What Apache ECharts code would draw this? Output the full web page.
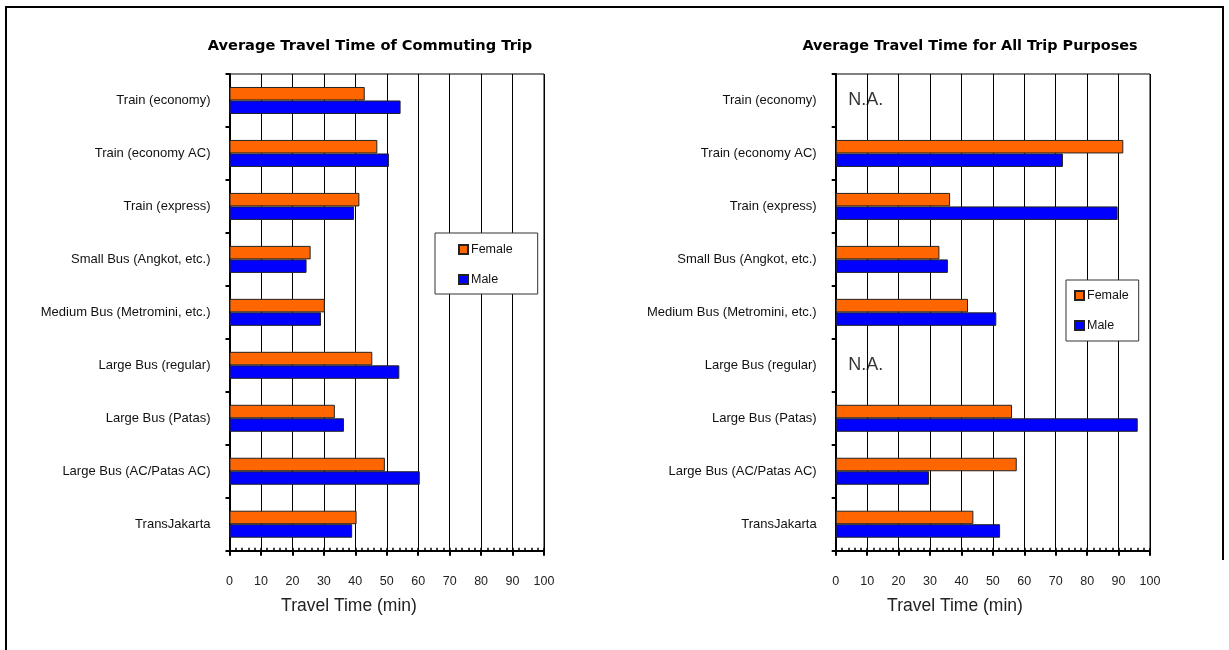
<!DOCTYPE html>
<html>
<head>
<meta charset="utf-8">
<script src="https://cdn.jsdelivr.net/npm/echarts@6/dist/echarts.min.js"></script>
<style>
html,body{margin:0;padding:0;background:#fff;}
#c{width:1229px;height:650px;}
</style>
</head>
<body>
<div id="c"></div>
<script>
var categories = ['Train (economy)','Train (economy AC)','Train (express)','Small Bus (Angkot, etc.)','Medium Bus (Metromini, etc.)','Large Bus (regular)','Large Bus (Patas)','Large Bus (AC/Patas AC)','TransJakarta'];
var commuteFemale = [43, 47, 41.3, 25.8, 30.3, 45.4, 33.5, 49.4, 40.4];
var commuteMale   = [54.4, 50.7, 39.6, 24.5, 29.1, 54.0, 36.4, 60.5, 39.0];
var allFemale = [null, 91.5, 36.4, 33.0, 42.1, null, 56.1, 57.6, 43.8];
var allMale   = [null, 72.3, 89.7, 35.7, 51.1, null, 96.1, 29.7, 52.3];
var naCategories = ['Train (economy)', 'Large Bus (regular)'];
var xTicks = [0,10,20,30,40,50,60,70,80,90,100];

var chart = echarts.init(document.getElementById('c'));
var ORANGE = '#FF6600', BLUE = '#0000FF';
var font = '"Liberation Sans", Arial, sans-serif';

function yAxis(i){
  return {type:'category', gridIndex:i, data:categories, inverse:true,
    axisLine:{show:true, lineStyle:{color:'#000', width:2}},
    axisTick:{show:true, length:4, lineStyle:{color:'#000', width:2}},
    axisLabel:{margin:19, color:'#111', fontSize:13, fontFamily:font},
    splitLine:{show:false}};
}
function xAxisMain(i){
  return {type:'value', gridIndex:i, min:xTicks[0], max:xTicks[xTicks.length-1], interval:10,
    axisLine:{show:true, lineStyle:{color:'#000', width:2}},
    axisTick:{show:true, length:5, lineStyle:{color:'#000', width:2}},
    axisLabel:{margin:24, color:'#222', fontSize:12.5, fontFamily:font},
    splitLine:{show:true, lineStyle:{color:'#000', width:1}}};
}
function xAxisMinor(i){
  return {type:'value', gridIndex:i, min:xTicks[0], max:xTicks[xTicks.length-1], interval:10, position:'bottom',
    axisLine:{show:false},
    axisTick:{show:true, inside:true, length:3, lineStyle:{color:'#000', width:1.5}},
    minorTick:{show:true, splitNumber:5, length:3, lineStyle:{color:'#000', width:1.5}},
    axisLabel:{show:false}, splitLine:{show:false}};
}
function bar(name, data, color, xi, yi){
  return {type:'bar', name:name, data:data, xAxisIndex:xi, yAxisIndex:yi,
    barWidth:13.5, barGap:'0%', itemStyle:{color:color, borderColor:'#222', borderWidth:1}};
}

var option = {
  backgroundColor:'#fff',
  animation:false,
  title:[
    {text:'Average Travel Time of Commuting Trip', left:365, top:34, textAlign:'center',
     textStyle:{fontFamily:'"DejaVu Sans", sans-serif', fontWeight:'bold', fontSize:14.6, color:'#000'}},
    {text:'Average Travel Time for All Trip Purposes', left:965, top:34, textAlign:'center',
     textStyle:{fontFamily:'"DejaVu Sans", sans-serif', fontWeight:'bold', fontSize:14.4, color:'#000'}},
    {text:'Travel Time (min)', left:344, top:592, textAlign:'center',
     textStyle:{fontFamily:font, fontWeight:'normal', fontSize:17.5, color:'#222'}},
    {text:'Travel Time (min)', left:950, top:592, textAlign:'center',
     textStyle:{fontFamily:font, fontWeight:'normal', fontSize:17.5, color:'#222'}}
  ],
  grid:[
    {left:229.5, top:74, width:314.5, height:476.7, show:true, borderColor:'#000', borderWidth:1, backgroundColor:'#fff'},
    {left:835.7, top:74, width:314.3, height:476.7, show:true, borderColor:'#000', borderWidth:1, backgroundColor:'#fff'}
  ],
  xAxis:[xAxisMain(0), xAxisMinor(0), xAxisMain(1), xAxisMinor(1)],
  yAxis:[yAxis(0), yAxis(1)],
  legend:[
    {data:['Female','Male'], orient:'vertical', left:435, top:233, itemWidth:9, itemHeight:9, itemGap:17,
     padding:[10,25,8,23], backgroundColor:'#fff', borderColor:'#333', borderWidth:1, icon:'rect',
     textStyle:{fontFamily:font, fontSize:12.5, color:'#111', padding:[0,0,0,-2]}, selectedMode:false},
    {data:['Female','Male'], orient:'vertical', left:1066, top:280, itemWidth:9, itemHeight:9, itemGap:17,
     padding:[9,10,9,8], backgroundColor:'#fff', borderColor:'#333', borderWidth:1, icon:'rect',
     textStyle:{fontFamily:font, fontSize:12.5, color:'#111', padding:[0,0,0,-2]}, selectedMode:false}
  ],
  series:[
    bar('Female', commuteFemale, ORANGE, 0, 0),
    bar('Male', commuteMale, BLUE, 0, 0),
    bar('Female', allFemale, ORANGE, 2, 1),
    bar('Male', allMale, BLUE, 2, 1),
    {type:'scatter', name:'NA', xAxisIndex:2, yAxisIndex:1, symbolSize:1, itemStyle:{color:'rgba(0,0,0,0)'},
     data:naCategories.map(function(c){return [0, c];}),
     label:{show:true, position:'right', distance:12, formatter:'N.A.', fontFamily:font, fontSize:18, color:'#000'}}
  ],
  graphic:[
    {type:'polyline', shape:{points:[[6,651],[6,7],[1223,7],[1223,560]]}, style:{stroke:'#000', lineWidth:2, fill:null}, silent:true}
  ]
};
chart.setOption(option);
</script>
</body>
</html>
